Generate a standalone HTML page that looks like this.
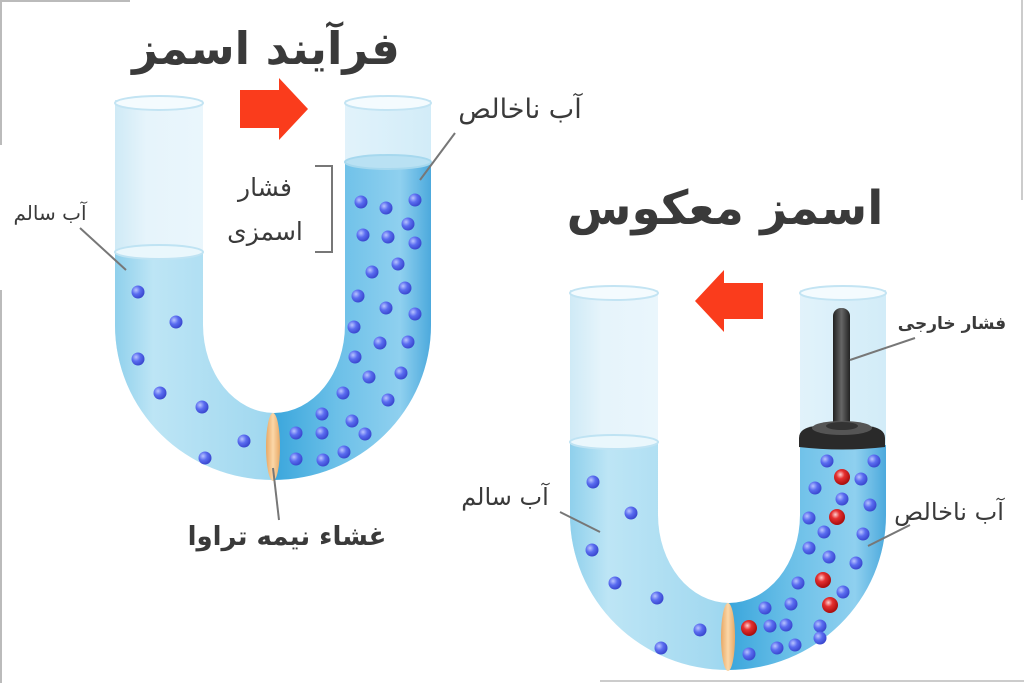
<!DOCTYPE html>
<html><head><meta charset="utf-8"><style>
html,body{margin:0;padding:0;background:#fff;}
svg{display:block;}
text{font-family:"DejaVu Sans","Liberation Sans","Noto Sans CJK SC",sans-serif;fill:#3a3a3a;}
</style></head><body>
<svg width="1024" height="683" viewBox="0 0 1024 683" xmlns="http://www.w3.org/2000/svg">
<defs>
<linearGradient id="glass" x1="0" x2="1" y1="0" y2="0">
<stop offset="0" stop-color="#cfeaf6"/><stop offset="0.1" stop-color="#e6f4fb"/><stop offset="0.5" stop-color="#eef8fd"/><stop offset="1" stop-color="#d2ecf8"/>
</linearGradient>
<linearGradient id="water" x1="115" x2="432" y1="0" y2="0" gradientUnits="userSpaceOnUse">
<stop offset="0" stop-color="#8fd0ec"/><stop offset="0.12" stop-color="#bde5f5"/><stop offset="0.45" stop-color="#a3d9f0"/><stop offset="0.5" stop-color="#9ad6ef"/>
<stop offset="0.5" stop-color="#3aa6dc"/><stop offset="0.7" stop-color="#6cc0e8"/><stop offset="0.9" stop-color="#8fd0ef"/><stop offset="1" stop-color="#4aa8dc"/>
</linearGradient>
<radialGradient id="dot" cx="0.35" cy="0.35" r="0.65">
<stop offset="0" stop-color="#b8c4ff"/><stop offset="0.5" stop-color="#5a6cf0"/><stop offset="1" stop-color="#3b49d0"/>
</radialGradient>
<radialGradient id="red" cx="0.4" cy="0.35" r="0.65">
<stop offset="0" stop-color="#ffd0d0"/><stop offset="0.4" stop-color="#e53030"/><stop offset="1" stop-color="#a80c0c"/>
</radialGradient>
<linearGradient id="mem" x1="0" x2="1"><stop offset="0" stop-color="#e8a865"/><stop offset="0.5" stop-color="#fbd7a8"/><stop offset="1" stop-color="#e8a865"/></linearGradient>
<linearGradient id="rod" x1="0" x2="1"><stop offset="0" stop-color="#222"/><stop offset="0.5" stop-color="#666"/><stop offset="1" stop-color="#222"/></linearGradient>
</defs>

<path d="M0,1 H130 M1,0 V145 M1,290 V683 M1185,1 H1024" stroke="#bbb" stroke-width="2" fill="none"/>
<path d="M600,681 H1024 M1022,0 V200" stroke="#ccc" stroke-width="2" fill="none"/>

<text x="266" y="64" font-size="45" font-weight="bold" text-anchor="middle">فرآیند اسمز</text>
<text x="725" y="224" font-size="47" font-weight="bold" text-anchor="middle">اسمز معکوس</text>

<polygon points="240,90 279,90 279,78 308,109 279,140 279,128 240,128" fill="#fa3c1c"/>
<polygon points="763,283 724,283 724,270 695,301 724,332 724,319 763,319" fill="#fa3c1c"/>

<g>
<path d="M115,100 L115,325 A158,155 0 0 0 431,325 L431,100 L345,100 L345,325 A71,88 0 0 1 203,325 L203,100 Z" fill="url(#glass)"/>
<path d="M115,250 L115,325 A158,155 0 0 0 431,325 L431,160 L345,160 L345,325 A71,88 0 0 1 203,325 L203,250 Z" fill="url(#water)"/>
<ellipse cx="159" cy="103" rx="44" ry="7" fill="#f4fbfe" stroke="#c3e4f3" stroke-width="2"/>
<ellipse cx="388" cy="103" rx="43" ry="7" fill="#f4fbfe" stroke="#c3e4f3" stroke-width="2"/>
<ellipse cx="159" cy="252" rx="44" ry="7" fill="#eaf7fc" stroke="#bfe3f3" stroke-width="2"/>
<ellipse cx="388" cy="162" rx="43" ry="7" fill="#b9e1f3" stroke="#a6d8ee" stroke-width="2"/>
<ellipse cx="273" cy="447" rx="7" ry="34" fill="url(#mem)"/>
<g fill="url(#dot)">
<circle cx="138" cy="292" r="6.5"/><circle cx="176" cy="322" r="6.5"/><circle cx="138" cy="359" r="6.5"/><circle cx="160" cy="393" r="6.5"/><circle cx="202" cy="407" r="6.5"/><circle cx="205" cy="458" r="6.5"/><circle cx="244" cy="441" r="6.5"/>
<circle cx="361" cy="202" r="6.5"/><circle cx="386" cy="208" r="6.5"/><circle cx="415" cy="200" r="6.5"/><circle cx="363" cy="235" r="6.5"/><circle cx="388" cy="237" r="6.5"/><circle cx="408" cy="224" r="6.5"/><circle cx="415" cy="243" r="6.5"/>
<circle cx="372" cy="272" r="6.5"/><circle cx="398" cy="264" r="6.5"/><circle cx="358" cy="296" r="6.5"/><circle cx="405" cy="288" r="6.5"/><circle cx="386" cy="308" r="6.5"/><circle cx="415" cy="314" r="6.5"/><circle cx="354" cy="327" r="6.5"/><circle cx="380" cy="343" r="6.5"/><circle cx="408" cy="342" r="6.5"/><circle cx="355" cy="357" r="6.5"/><circle cx="369" cy="377" r="6.5"/><circle cx="401" cy="373" r="6.5"/><circle cx="343" cy="393" r="6.5"/><circle cx="388" cy="400" r="6.5"/><circle cx="322" cy="414" r="6.5"/><circle cx="352" cy="421" r="6.5"/><circle cx="296" cy="433" r="6.5"/><circle cx="322" cy="433" r="6.5"/><circle cx="365" cy="434" r="6.5"/><circle cx="296" cy="459" r="6.5"/><circle cx="323" cy="460" r="6.5"/><circle cx="344" cy="452" r="6.5"/>
</g>
</g>

<g transform="translate(455,190)">
<path d="M115,100 L115,325 A158,155 0 0 0 431,325 L431,100 L345,100 L345,325 A71,88 0 0 1 203,325 L203,100 Z" fill="url(#glass)"/>
<path d="M115,250 L115,325 A158,155 0 0 0 431,325 L431,255 L345,255 L345,325 A71,88 0 0 1 203,325 L203,250 Z" fill="url(#water)"/>
<ellipse cx="159" cy="103" rx="44" ry="7" fill="#f4fbfe" stroke="#c3e4f3" stroke-width="2"/>
<ellipse cx="388" cy="103" rx="43" ry="7" fill="#f4fbfe" stroke="#c3e4f3" stroke-width="2"/>
<ellipse cx="159" cy="252" rx="44" ry="7" fill="#eaf7fc" stroke="#bfe3f3" stroke-width="2"/>
<ellipse cx="273" cy="447" rx="7" ry="34" fill="url(#mem)"/>
</g>
<rect x="833" y="308" width="17" height="128" rx="8" fill="url(#rod)"/>
<path d="M799,438 Q799,428 815,426 L868,426 Q885,428 885,438 L885,447 Q842,452 799,447 Z" fill="#2a2a2a"/>
<ellipse cx="842" cy="428" rx="30" ry="7" fill="#555"/>
<ellipse cx="842" cy="426" rx="16" ry="4" fill="#333"/>
<g fill="url(#dot)">
<circle cx="827" cy="461" r="6.5"/><circle cx="874" cy="461" r="6.5"/><circle cx="861" cy="479" r="6.5"/><circle cx="815" cy="488" r="6.5"/><circle cx="842" cy="499" r="6.5"/><circle cx="870" cy="505" r="6.5"/><circle cx="809" cy="518" r="6.5"/><circle cx="824" cy="532" r="6.5"/><circle cx="863" cy="534" r="6.5"/><circle cx="809" cy="548" r="6.5"/><circle cx="829" cy="557" r="6.5"/><circle cx="856" cy="563" r="6.5"/><circle cx="798" cy="583" r="6.5"/><circle cx="843" cy="592" r="6.5"/><circle cx="820" cy="626" r="6.5"/><circle cx="765" cy="608" r="6.5"/><circle cx="791" cy="604" r="6.5"/><circle cx="770" cy="626" r="6.5"/><circle cx="786" cy="625" r="6.5"/><circle cx="795" cy="645" r="6.5"/><circle cx="777" cy="648" r="6.5"/><circle cx="749" cy="654" r="6.5"/><circle cx="820" cy="638" r="6.5"/>
<circle cx="593" cy="482" r="6.5"/><circle cx="631" cy="513" r="6.5"/><circle cx="592" cy="550" r="6.5"/><circle cx="615" cy="583" r="6.5"/><circle cx="657" cy="598" r="6.5"/><circle cx="700" cy="630" r="6.5"/><circle cx="661" cy="648" r="6.5"/>
</g>
<g fill="url(#red)">
<circle cx="842" cy="477" r="8"/><circle cx="837" cy="517" r="8"/><circle cx="823" cy="580" r="8"/><circle cx="830" cy="605" r="8"/><circle cx="749" cy="628" r="8"/>
</g>

<g stroke="#777" stroke-width="2" fill="none">
<line x1="455" y1="133" x2="420" y2="180"/>
<line x1="80" y1="228" x2="126" y2="270"/>
<path d="M315,166 H332 V252 H315"/>
<line x1="273" y1="468" x2="279" y2="520"/>
<line x1="560" y1="512" x2="600" y2="532"/>
<line x1="915" y1="338" x2="850" y2="360"/>
<line x1="910" y1="525" x2="868" y2="546"/>
</g>

<text x="520" y="118" font-size="27" text-anchor="middle">آب ناخالص</text>
<text x="50" y="220" font-size="20" text-anchor="middle">آب سالم</text>
<text x="265" y="196" font-size="25" text-anchor="middle">فشار</text>
<text x="265" y="240" font-size="25" text-anchor="middle">اسمزی</text>
<text x="287" y="545" font-size="26" font-weight="bold" text-anchor="middle">غشاء نیمه تراوا</text>
<text x="505" y="505" font-size="24" text-anchor="middle">آب سالم</text>
<text x="949" y="520" font-size="24" text-anchor="middle">آب ناخالص</text>
<text x="952" y="329" font-size="17" font-weight="bold" text-anchor="middle">فشار خارجی</text>
</svg>
</body></html>
